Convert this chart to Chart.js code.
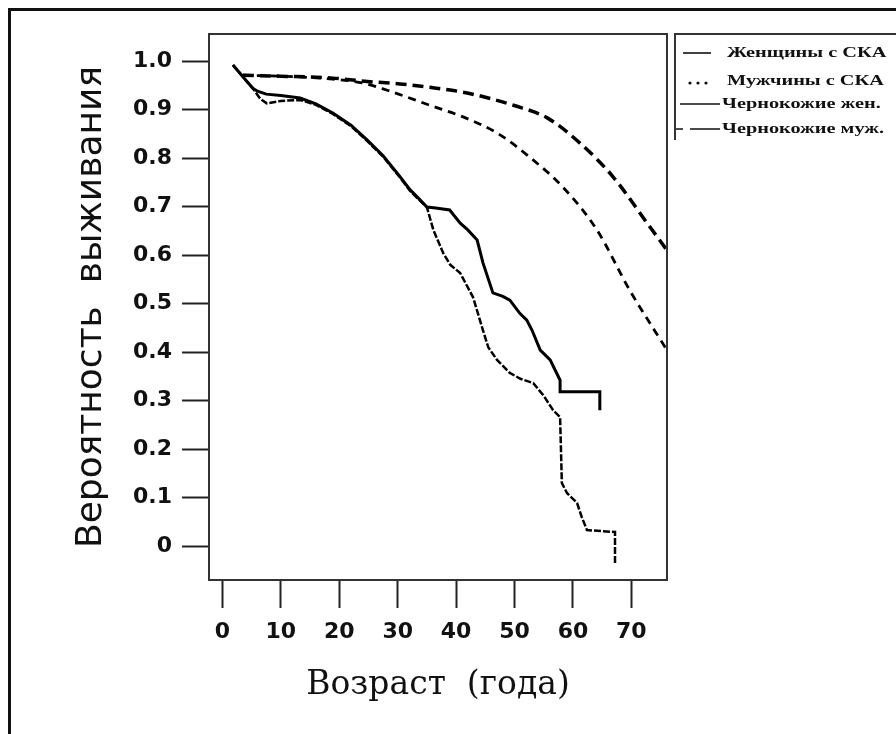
<!DOCTYPE html>
<html>
<head>
<meta charset="utf-8">
<script src="https://cdn.jsdelivr.net/npm/chart.js@4"></script>
<style>
  html, body { margin: 0; padding: 0; background: #fff; }
  canvas { display: block; }
</style>
</head>
<body>
<canvas id="myChart" width="896" height="734"></canvas>
<script>
// survival curves (age in years, probability)
const seriesLabels = ["Женщины с СКА", "Мужчины с СКА", "Чернокожие жен.", "Чернокожие муж."];

const womenScaAge = [1.8, 3.5, 5.2, 6.0, 7.5, 10, 13.3, 16, 18.9, 22, 24.8, 27.5, 30.4, 32.1, 33.5, 35.0, 36.5, 38.9, 40.7, 42.0, 43.6, 44.6, 46.3, 48.0, 49.2, 50.9, 52.1, 53.0, 54.4, 56.1, 57.8, 57.8, 64.6, 64.6];
const womenScaSurv = [0.992, 0.968, 0.944, 0.938, 0.932, 0.929, 0.924, 0.912, 0.893, 0.868, 0.837, 0.805, 0.762, 0.735, 0.718, 0.699, 0.697, 0.693, 0.666, 0.652, 0.631, 0.584, 0.522, 0.515, 0.507, 0.480, 0.466, 0.445, 0.404, 0.384, 0.342, 0.318, 0.318, 0.280];

const menScaAge = [1.8, 3.5, 5.2, 6.5, 7.6, 10, 13.3, 16, 18.9, 22, 24.8, 27.5, 30.4, 32.1, 33.5, 35.0, 36.1, 37.8, 39.0, 40.7, 42.9, 44.6, 45.5, 47.0, 49.2, 51.0, 53.2, 55.0, 56.6, 57.8, 58.1, 59.0, 60.7, 61.5, 62.4, 67.2, 67.2];
const menScaSurv = [0.992, 0.968, 0.944, 0.922, 0.913, 0.918, 0.920, 0.910, 0.891, 0.866, 0.835, 0.803, 0.760, 0.733, 0.716, 0.699, 0.652, 0.604, 0.580, 0.563, 0.513, 0.445, 0.410, 0.384, 0.357, 0.345, 0.336, 0.310, 0.280, 0.266, 0.130, 0.109, 0.089, 0.060, 0.033, 0.029, -0.035];

const blackWomenAge = [3.5, 10, 18.9, 24.8, 30.4, 35.5, 41.2, 45.5, 49.8, 55.6, 61.2, 66.9, 72.7, 76.1];
const blackWomenSurv = [0.971, 0.969, 0.965, 0.958, 0.953, 0.946, 0.936, 0.924, 0.909, 0.883, 0.831, 0.761, 0.666, 0.610];

const blackMenAge = [3.5, 10, 18.9, 24.0, 28.2, 35.5, 41.2, 47.0, 52.6, 58.3, 64.1, 69.7, 76.1];
const blackMenSurv = [0.971, 0.969, 0.963, 0.955, 0.940, 0.909, 0.885, 0.852, 0.802, 0.740, 0.652, 0.528, 0.404];

const xTicks = [0, 10, 20, 30, 40, 50, 60, 70];
const yTicks = [0, 0.1, 0.2, 0.3, 0.4, 0.5, 0.6, 0.7, 0.8, 0.9, 1.0];

const toPoints = (xs, ys) => xs.map((x, i) => ({ x: x, y: ys[i] }));

// legend sample styles (they differ a bit from the plotted lines, as in the original)
const legendRows = [
  { y: 53, textX: 727, draw: (c) => { c.moveTo(683, 53); c.lineTo(711, 53); } },
  { y: 81, textX: 727, dots: [690, 698, 706] },
  { y: 104, textX: 722, draw: (c) => { c.moveTo(680, 104); c.lineTo(720, 104); } },
  { y: 129, textX: 722, draw: (c) => { c.moveTo(676, 129); c.lineTo(683, 129); c.moveTo(690, 129); c.lineTo(720, 129); } },
];

const framePlugin = {
  id: "frames",
  afterDraw(chart) {
    const c = chart.ctx;
    const a = chart.chartArea;
    c.save();
    // outer picture border
    c.strokeStyle = "#111";
    c.lineWidth = 3;
    c.beginPath();
    c.moveTo(9.5, 734);
    c.lineTo(9.5, 9.5);
    c.lineTo(896, 9.5);
    c.stroke();
    // plot box
    c.strokeStyle = "#333";
    c.lineWidth = 2;
    c.strokeRect(a.left, a.top, a.right - a.left, a.bottom - a.top);
    // legend box
    c.beginPath();
    c.moveTo(675, 140);
    c.lineTo(675, a.top);
    c.lineTo(896, a.top);
    c.stroke();
    // legend rows
    c.strokeStyle = "#111";
    c.fillStyle = "#111";
    c.lineWidth = 1.6;
    c.font = 'bold 14px "Liberation Serif"';
    c.textBaseline = "middle";
    legendRows.forEach((row, i) => {
      if (row.dots) {
        row.dots.forEach((dx) => {
          c.beginPath();
          c.arc(dx, row.y + 2, 1.6, 0, Math.PI * 2);
          c.fill();
        });
      } else {
        c.beginPath();
        row.draw(c);
        c.stroke();
      }
      c.save();
      c.translate(row.textX, row.y);
      c.scale(1.45, 1);
      c.fillText(seriesLabels[i], 0, 0);
      c.restore();
    });
    c.restore();
  },
};

const ctx = document.getElementById("myChart").getContext("2d");

new Chart(ctx, {
  type: "line",
  data: {
    datasets: [
      {
        label: seriesLabels[0],
        data: toPoints(womenScaAge, womenScaSurv),
        borderColor: "#000",
        borderWidth: 3,
        pointRadius: 0,
        tension: 0,
      },
      {
        label: seriesLabels[1],
        data: toPoints(menScaAge, menScaSurv),
        borderColor: "#000",
        borderWidth: 2.5,
        borderDash: [7, 2],
        pointRadius: 0,
        tension: 0,
      },
      {
        label: seriesLabels[2],
        data: toPoints(blackWomenAge, blackWomenSurv),
        borderColor: "#000",
        borderWidth: 3.5,
        borderDash: [11, 6],
        pointRadius: 0,
        cubicInterpolationMode: "monotone",
      },
      {
        label: seriesLabels[3],
        data: toPoints(blackMenAge, blackMenSurv),
        borderColor: "#000",
        borderWidth: 2.8,
        borderDash: [8, 6],
        pointRadius: 0,
        cubicInterpolationMode: "monotone",
      },
    ],
  },
  options: {
    responsive: false,
    animation: false,
    layout: { padding: { top: 34, right: 229, left: 0, bottom: 0 } },
    plugins: {
      legend: { display: false },
      tooltip: { enabled: false },
    },
    scales: {
      x: {
        type: "linear",
        min: -2.3,
        max: 76.1,
        afterBuildTicks: (scale) => {
          scale.ticks = xTicks.map((v) => ({ value: v }));
        },
        afterFit: (scale) => {
          scale.height = 154;
        },
        grid: {
          drawOnChartArea: false,
          drawTicks: true,
          tickLength: 28,
          tickColor: "#222",
          tickWidth: 2,
        },
        border: { display: false },
        ticks: {
          padding: 11,
          color: "#111",
          font: { family: "DejaVu Sans", size: 22, weight: "bold" },
        },
        title: {
          display: true,
          text: "Возраст  (года)",
          color: "#111",
          font: { family: "DejaVu Serif", size: 33 },
          padding: { top: 0, bottom: 29 },
        },
      },
      y: {
        type: "linear",
        min: -0.07,
        max: 1.056,
        afterBuildTicks: (scale) => {
          scale.ticks = yTicks.map((v) => ({ value: v }));
        },
        afterFit: (scale) => {
          scale.width = 209;
        },
        grid: {
          drawOnChartArea: false,
          drawTicks: true,
          tickLength: 27,
          tickColor: "#222",
          tickWidth: 2,
        },
        border: { display: false },
        ticks: {
          padding: 10,
          color: "#111",
          font: { family: "DejaVu Sans", size: 22, weight: "bold" },
          callback: (v) => (v === 0 ? "0" : v.toFixed(1)),
        },
        title: {
          display: true,
          text: "Вероятность  выживания",
          color: "#111",
          font: { family: "DejaVu Sans", size: 36 },
          padding: { top: 70, bottom: 0 },
        },
      },
    },
  },
  plugins: [framePlugin],
});
</script>
</body>
</html>
